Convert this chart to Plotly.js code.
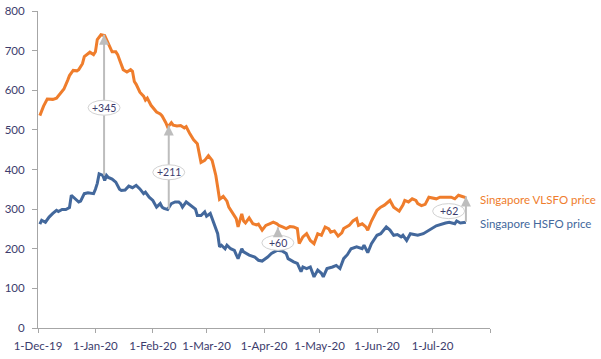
<!DOCTYPE html>
<html>
<head>
<meta charset="utf-8">
<script src="https://cdn.plot.ly/plotly-3.0.1.min.js"></script>
<style>
  html, body { margin: 0; padding: 0; background: #fff; }
  #chart { width: 601px; height: 359px; }
</style>
</head>
<body>
<div id="chart"></div>
<script>
// ---- Data ----
const vlsfoDates = [
  "2019-12-02","2019-12-04","2019-12-06","2019-12-09","2019-12-11","2019-12-13","2019-12-15","2019-12-17","2019-12-18","2019-12-20",
  "2019-12-22","2019-12-23","2019-12-25","2019-12-26","2019-12-28","2019-12-29","2019-12-31","2020-01-01","2020-01-02","2020-01-04",
  "2020-01-06","2020-01-08","2020-01-10","2020-01-12","2020-01-13","2020-01-14","2020-01-16","2020-01-18","2020-01-20","2020-01-21",
  "2020-01-22","2020-01-23","2020-01-25","2020-01-26","2020-01-27","2020-01-28","2020-01-29","2020-01-31","2020-02-02","2020-02-03",
  "2020-02-05","2020-02-06","2020-02-08","2020-02-09","2020-02-11","2020-02-12","2020-02-14","2020-02-16","2020-02-18","2020-02-19",
  "2020-02-21","2020-02-23","2020-02-25","2020-02-26","2020-02-27","2020-02-29","2020-03-02","2020-03-04","2020-03-06","2020-03-07",
  "2020-03-08","2020-03-10","2020-03-12","2020-03-13","2020-03-15","2020-03-17","2020-03-18","2020-03-20","2020-03-21","2020-03-22",
  "2020-03-24","2020-03-26","2020-03-28","2020-03-29","2020-03-31","2020-04-02","2020-04-04","2020-04-06","2020-04-08","2020-04-09",
  "2020-04-11","2020-04-13","2020-04-15","2020-04-17","2020-04-19","2020-04-20","2020-04-22","2020-04-23","2020-04-24","2020-04-26",
  "2020-04-28","2020-04-30","2020-05-02","2020-05-04","2020-05-06","2020-05-07","2020-05-09","2020-05-11","2020-05-13","2020-05-14",
  "2020-05-17","2020-05-19","2020-05-21","2020-05-22","2020-05-24","2020-05-26","2020-05-27","2020-05-29","2020-05-30","2020-06-01",
  "2020-06-03","2020-06-05","2020-06-07","2020-06-08","2020-06-10","2020-06-13","2020-06-15","2020-06-16","2020-06-18","2020-06-20",
  "2020-06-22","2020-06-23","2020-06-25","2020-06-27","2020-06-29","2020-07-01","2020-07-03","2020-07-05","2020-07-07","2020-07-09",
  "2020-07-11","2020-07-13","2020-07-15","2020-07-17","2020-07-19"
];
const vlsfoValues = [
  536,560,578,577,580,592,603,625,637,650,
  649,652,667,685,692,696,690,697,728,740,
  738,718,697,697,690,677,652,646,652,648,
  622,615,595,590,585,575,580,562,550,545,
  540,535,518,507,518,512,510,511,505,508,
  490,475,465,440,418,423,435,423,385,355,
  325,332,320,305,290,276,255,288,270,265,
  278,263,260,262,247,259,263,267,263,259,
  255,251,256,255,251,213,230,234,238,221,
  213,238,234,255,250,242,245,232,240,251,
  259,270,276,259,263,255,247,270,280,297,
  305,310,318,322,305,295,310,322,318,326,
  322,314,309,312,330,328,326,330,330,331,
  330,326,335,332,329
];

const hsfoDates = [
  "2019-12-02","2019-12-03","2019-12-05","2019-12-07","2019-12-09","2019-12-11","2019-12-12","2019-12-14","2019-12-16","2019-12-18",
  "2019-12-19","2019-12-21","2019-12-23","2019-12-24","2019-12-26","2019-12-28","2019-12-29","2019-12-31","2020-01-01","2020-01-02",
  "2020-01-03","2020-01-05","2020-01-06","2020-01-07","2020-01-08","2020-01-10","2020-01-12","2020-01-14","2020-01-15","2020-01-17",
  "2020-01-19","2020-01-21","2020-01-23","2020-01-25","2020-01-27","2020-01-28","2020-01-30","2020-02-01","2020-02-03","2020-02-05",
  "2020-02-06","2020-02-07","2020-02-09","2020-02-11","2020-02-13","2020-02-15","2020-02-16","2020-02-17","2020-02-19","2020-02-21",
  "2020-02-23","2020-02-24","2020-02-25","2020-02-27","2020-02-29","2020-03-01","2020-03-03","2020-03-05","2020-03-07","2020-03-08",
  "2020-03-09","2020-03-11","2020-03-12","2020-03-14","2020-03-16","2020-03-17","2020-03-18","2020-03-20","2020-03-21","2020-03-24",
  "2020-03-27","2020-03-29","2020-03-31","2020-04-03","2020-04-05","2020-04-08","2020-04-11","2020-04-13","2020-04-14","2020-04-17",
  "2020-04-19","2020-04-21","2020-04-22","2020-04-24","2020-04-26","2020-04-28","2020-04-30","2020-05-01","2020-05-02","2020-05-03",
  "2020-05-05","2020-05-08","2020-05-10","2020-05-12","2020-05-14","2020-05-16","2020-05-18","2020-05-21","2020-05-24","2020-05-25",
  "2020-05-27","2020-05-29","2020-05-30","2020-06-01","2020-06-03","2020-06-05","2020-06-06","2020-06-08","2020-06-10","2020-06-12",
  "2020-06-14","2020-06-15","2020-06-17","2020-06-19","2020-06-21","2020-06-23","2020-06-26","2020-06-29","2020-07-01","2020-07-03",
  "2020-07-08","2020-07-10","2020-07-13","2020-07-14","2020-07-16","2020-07-19"
];
const hsfoValues = [
  262,272,267,280,289,297,294,299,299,304,
  335,326,318,320,339,341,340,339,350,365,
  389,385,372,385,380,376,368,350,347,348,
  358,354,360,351,339,343,330,322,305,314,
  305,302,299,314,318,318,314,305,318,311,
  305,300,284,284,293,282,289,263,238,205,
  209,200,209,200,196,185,175,200,192,184,
  179,171,169,179,188,196,194,188,175,167,
  163,142,154,150,154,129,146,142,138,129,
  150,154,158,150,175,185,200,205,200,209,
  190,213,221,234,238,251,255,247,234,236,
  230,234,221,238,236,234,238,247,251,258,
  265,267,263,270,265,267
];

// Axis ticks
const xTickDates  = ["2019-12-01","2020-01-01","2020-02-01","2020-03-01","2020-04-01","2020-05-01","2020-06-01","2020-07-01","2020-08-01"];
const xTickLabels = ["1-Dec-19","1-Jan-20","1-Feb-20","1-Mar-20","1-Apr-20","1-May-20","1-Jun-20","1-Jul-20",""];

// Spread call-outs
const gapLabels   = ["+345","+211","+60","+62"];
const gapDates    = ["2020-01-05 16:00","2020-02-09 14:00","2020-04-08 12:00","2020-07-19 00:00"];
const gapLow      = [385, 300, 196, 268];
const gapHigh     = [740, 511, 254, 332];
const gapLabelX   = ["2020-01-05 16:00","2020-02-09 14:00","2020-04-08 12:00","2020-07-09 16:00"];
const gapLabelY   = [556, 393, 215, 295];

// Series labels
const seriesNames = ["Singapore VLSFO price","Singapore HSFO price"];
const seriesLabelY = [325, 263];

// ---- Styling ----
const ORANGE = "#EF7D2C";
const BLUE = "#43689C";
const NAVY = "#3C3C6C";
const AXIS = "#A6A6A6";
const GREY = "#BDBDBD";
const FONT = "Lato, 'Open Sans', sans-serif";

const traces = [
  { x: vlsfoDates, y: vlsfoValues, type: "scatter", mode: "lines", name: seriesNames[0],
    line: { color: ORANGE, width: 3 }, hoverinfo: "skip" },
  { x: hsfoDates, y: hsfoValues, type: "scatter", mode: "lines", name: seriesNames[1],
    line: { color: BLUE, width: 3 }, hoverinfo: "skip" }
];

const annotations = [];
const shapes = [];
// arrow shafts first (so the ellipses can sit over them)
for (let i = 0; i < gapLabels.length; i++) {
  shapes.push({
    type: "line", xref: "x", yref: "y",
    x0: gapDates[i], x1: gapDates[i], y0: gapLow[i], y1: gapHigh[i],
    line: { color: GREY, width: 2 }, layer: "above"
  });
  annotations.push({
    x: gapDates[i], y: gapHigh[i], xref: "x", yref: "y",
    ax: 0, ay: 9,
    text: "", showarrow: true, arrowhead: 2, arrowsize: 1, arrowwidth: 2,
    arrowcolor: GREY, standoff: 0, startstandoff: 0
  });
}
for (let i = 0; i < gapLabels.length; i++) {
  shapes.push({
    type: "circle", xref: "x", yref: "y",
    xsizemode: "pixel", ysizemode: "pixel",
    xanchor: gapLabelX[i], yanchor: gapLabelY[i],
    x0: -16, x1: 16, y0: -7.5, y1: 7.5,
    fillcolor: "#FFFFFF", line: { color: "#D2D2D2", width: 1 }, layer: "above"
  });
  annotations.push({
    x: gapLabelX[i], y: gapLabelY[i], xref: "x", yref: "y",
    text: gapLabels[i], showarrow: false,
    font: { family: FONT, size: 10.5, color: NAVY },
    xanchor: "center", yanchor: "middle"
  });
}
const seriesColors = [ORANGE, BLUE];
for (let i = 0; i < seriesNames.length; i++) {
  annotations.push({
    x: 0.973, xref: "paper", y: seriesLabelY[i], yref: "y",
    text: seriesNames[i], showarrow: false,
    xanchor: "left", yanchor: "middle",
    font: { family: FONT, size: 11.5, color: seriesColors[i] }
  });
}

const layout = {
  width: 601, height: 359,
  margin: { l: 38, r: 111, t: 11, b: 31, pad: 0 },
  paper_bgcolor: "#FFFFFF", plot_bgcolor: "#FFFFFF",
  showlegend: false,
  font: { family: FONT, size: 11, color: NAVY },
  xaxis: {
    type: "date", range: ["2019-12-01", "2020-08-01"],
    tickmode: "array", tickvals: xTickDates, ticktext: xTickLabels,
    showgrid: false, zeroline: false,
    showline: true, linecolor: AXIS, linewidth: 1,
    ticks: "outside", ticklen: 4, tickcolor: AXIS, tickwidth: 1,
    ticklabelstandoff: 3,
    tickfont: { family: FONT, size: 11.5, color: NAVY }
  },
  yaxis: {
    range: [0, 800], dtick: 100, tick0: 0,
    showgrid: false, zeroline: false,
    showline: true, linecolor: AXIS, linewidth: 1,
    ticks: "outside", ticklen: 5, tickcolor: AXIS, tickwidth: 1,
    ticklabelstandoff: 5,
    tickfont: { family: FONT, size: 11.5, color: NAVY }
  },
  annotations: annotations,
  shapes: shapes
};

Plotly.newPlot("chart", traces, layout, { displayModeBar: false, staticPlot: true });
</script>
</body>
</html>
